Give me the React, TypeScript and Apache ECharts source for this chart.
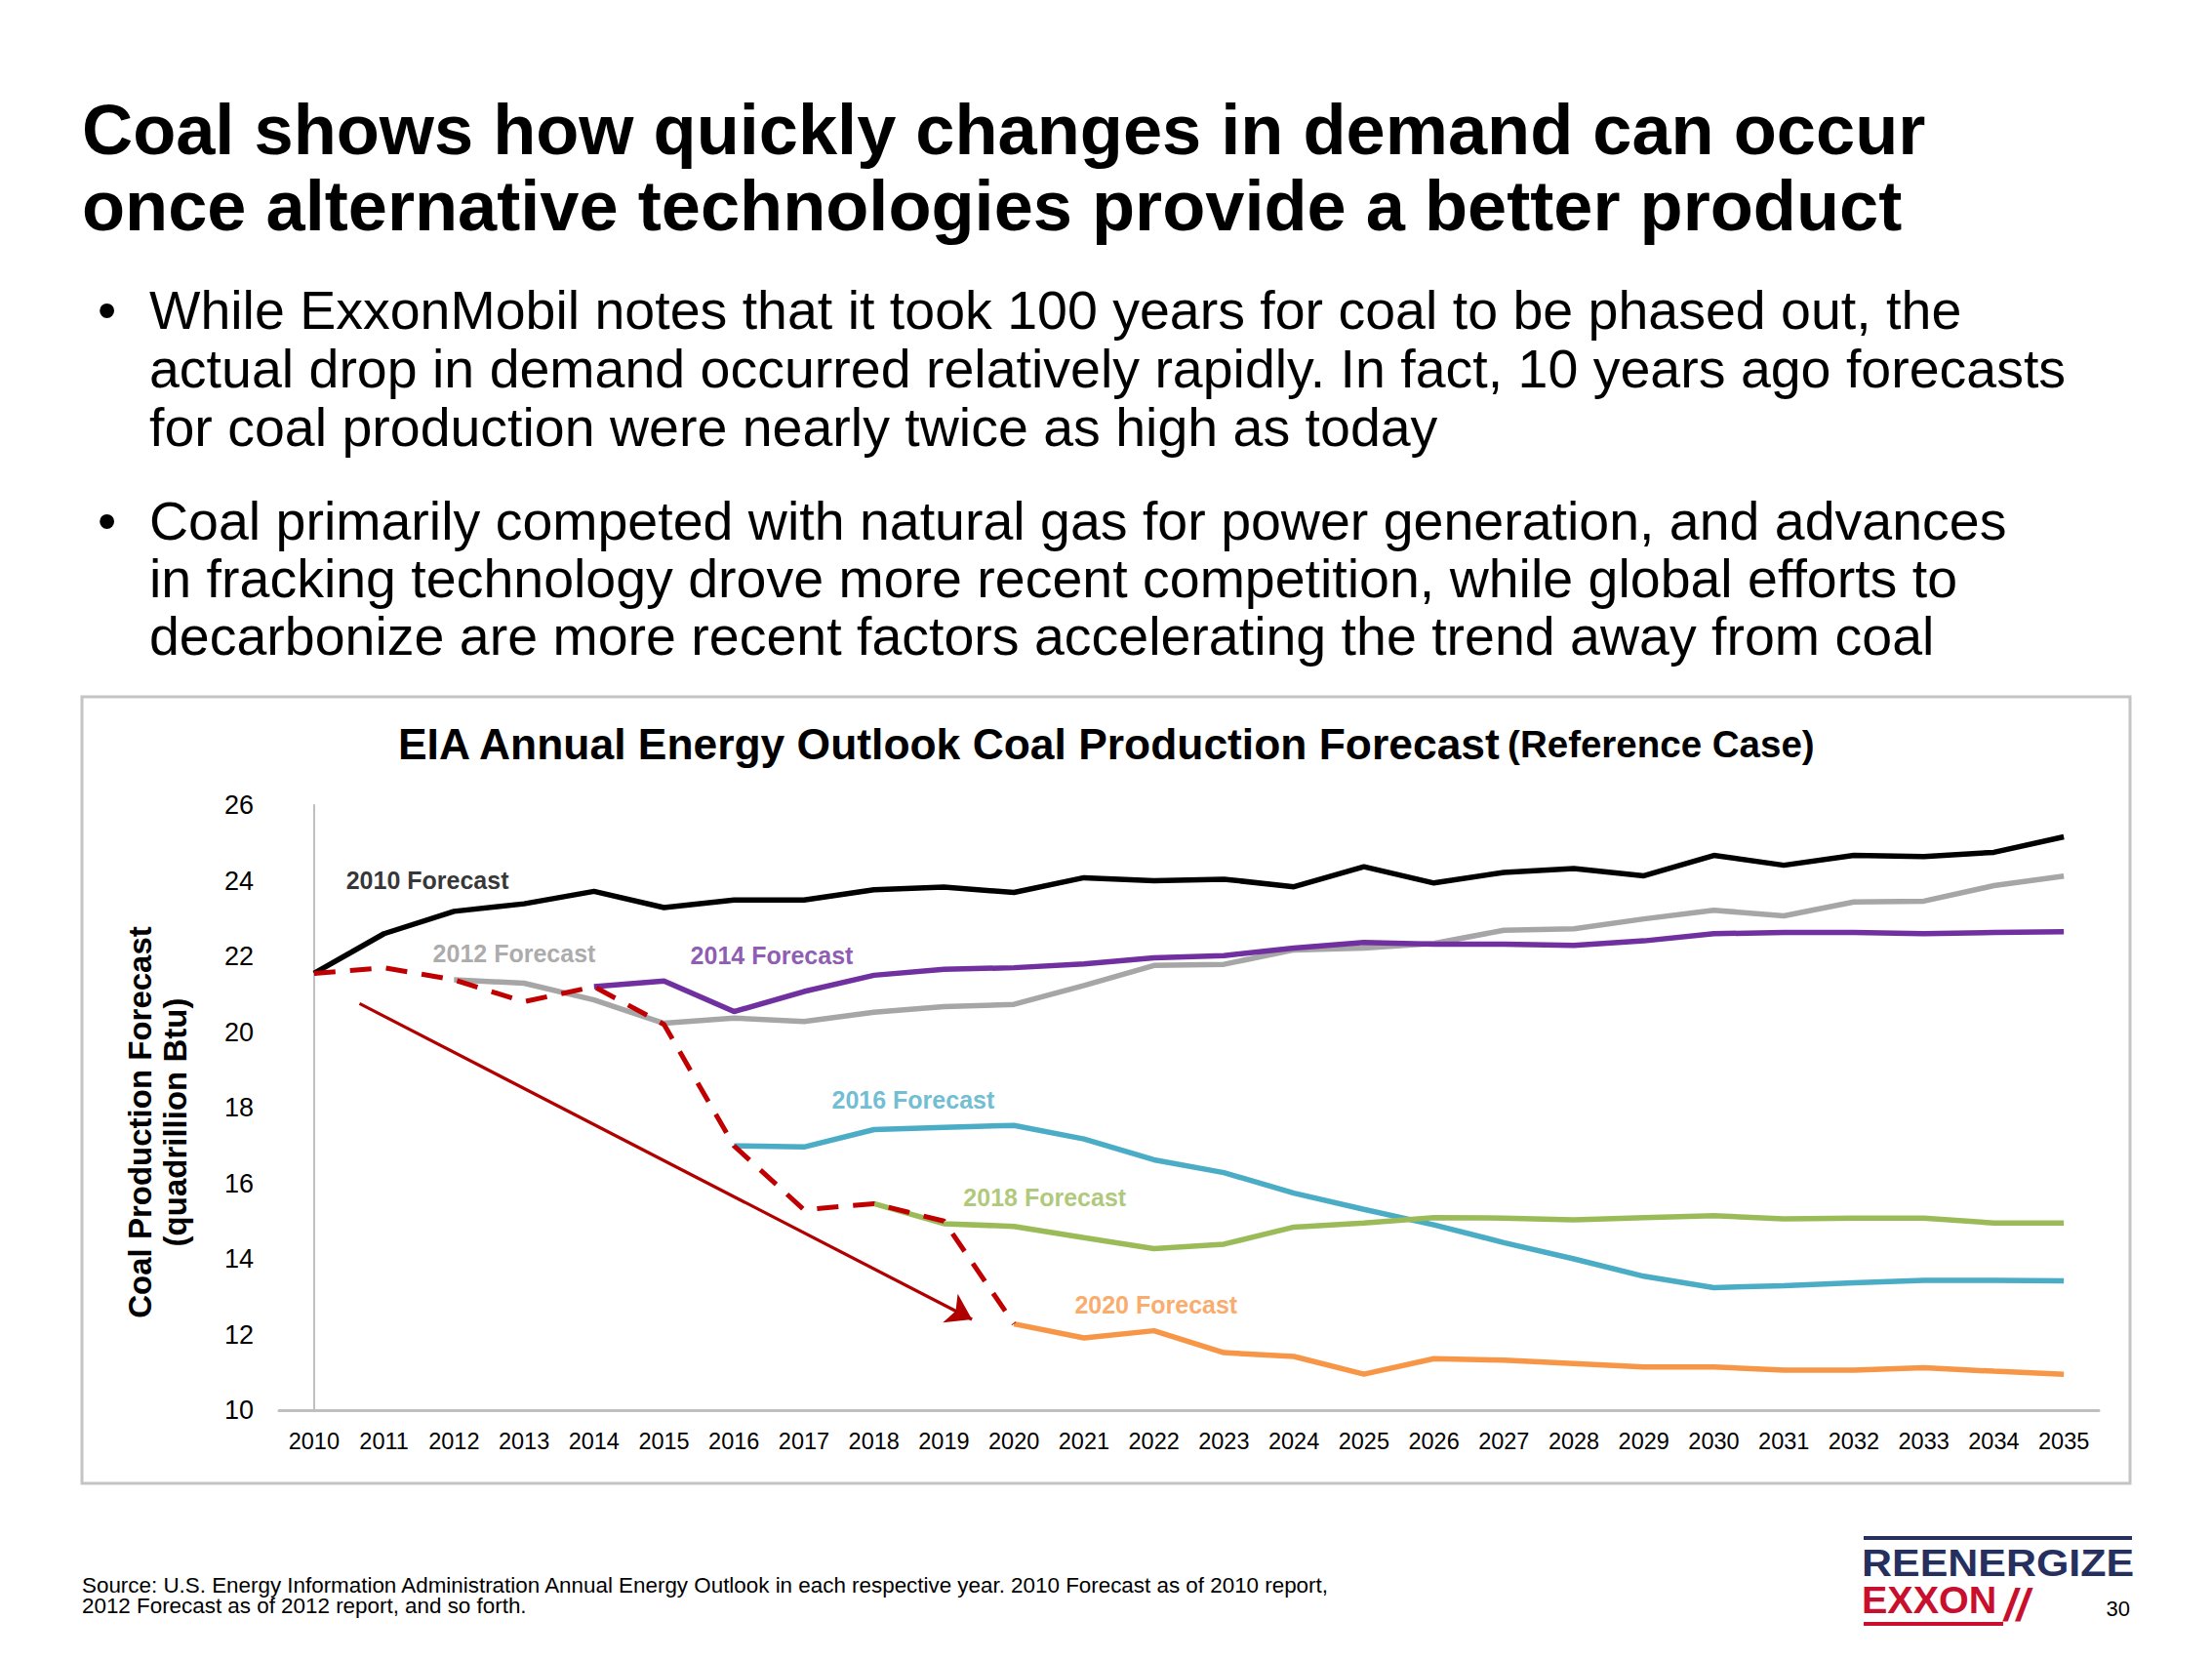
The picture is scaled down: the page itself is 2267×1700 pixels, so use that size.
import React, { useEffect, useRef } from 'react';
import * as echarts from 'echarts';

const years = ['2010','2011','2012','2013','2014','2015','2016','2017','2018','2019','2020','2021','2022','2023','2024','2025','2026','2027','2028','2029','2030','2031','2032','2033','2034','2035'];

const forecast2010 = [21.55, 22.6, 23.19, 23.39, 23.72, 23.29, 23.49, 23.49, 23.76, 23.83, 23.69, 24.08, 24.0, 24.04, 23.84, 24.37, 23.94, 24.22, 24.32, 24.13, 24.67, 24.41, 24.67, 24.64, 24.75, 25.16];
const forecast2012 = [null, null, 21.38, 21.29, 20.85, 20.23, 20.37, 20.28, 20.52, 20.67, 20.73, 21.23, 21.76, 21.79, 22.17, 22.22, 22.34, 22.69, 22.73, 22.99, 23.22, 23.07, 23.44, 23.46, 23.87, 24.12];
const forecast2014 = [null, null, null, null, 21.2, 21.35, 20.54, 21.07, 21.5, 21.66, 21.7, 21.8, 21.96, 22.02, 22.22, 22.37, 22.32, 22.32, 22.29, 22.41, 22.6, 22.63, 22.63, 22.6, 22.63, 22.65];
const forecast2016 = [null, null, null, null, null, null, 16.99, 16.96, 17.42, 17.48, 17.53, 17.17, 16.62, 16.28, 15.74, 15.31, 14.9, 14.43, 14.0, 13.54, 13.24, 13.29, 13.37, 13.43, 13.43, 13.42];
const forecast2018 = [null, null, null, null, null, null, null, null, 15.46, 14.93, 14.86, 14.56, 14.27, 14.39, 14.84, 14.95, 15.09, 15.08, 15.03, 15.09, 15.14, 15.06, 15.08, 15.08, 14.95, 14.95];
const forecast2020 = [null, null, null, null, null, null, null, null, null, null, 12.28, 11.91, 12.1, 11.52, 11.42, 10.95, 11.36, 11.32, 11.23, 11.14, 11.14, 11.06, 11.06, 11.12, 11.03, 10.95];
const actualPath = [21.55, 21.7, 21.38, 20.8, 21.2, 20.2, 16.99, 15.3, 15.46, 15.0, 12.28, null, null, null, null, null, null, null, null, null, null, null, null, null, null, null];

// Annotation arrow (category index, value)
const arrowStart = [0.65, 20.75];
const arrowEnd = [9.4, 12.4];

// Series name labels (category index, value)
const labelNames = ['2010 Forecast', '2012 Forecast', '2014 Forecast', '2016 Forecast', '2018 Forecast', '2020 Forecast'];
const labelX = [1.62, 2.86, 6.54, 8.56, 10.44, 12.03];
const labelY = [24.01, 22.08, 22.02, 18.21, 15.63, 12.79];
const labelColors = ['#000000', '#959595', '#7030a0', '#4bacc6', '#9bbb59', '#f79646'];

const yTicks = { min: 10, max: 26, interval: 2 };

const REG = "'Liberation Sans', Arial, sans-serif";

const bullet1 = [
  'While ExxonMobil notes that it took 100 years for coal to be phased out, the',
  'actual drop in demand occurred relatively rapidly. In fact, 10 years ago forecasts',
  'for coal production were nearly twice as high as today',
];
const bullet2 = [
  'Coal primarily competed with natural gas for power generation, and advances',
  'in fracking technology drove more recent competition, while global efforts to',
  'decarbonize are more recent factors accelerating the trend away from coal',
];

export default function App() {
  const ref = useRef<HTMLDivElement>(null);
  useEffect(() => {
    document.body.style.margin = '0';
    const chart = echarts.init(ref.current as HTMLDivElement, null, { renderer: 'svg' });

    const txt = (text: string, x: number, y: number, size: number, opts: any = {}) => ({
      type: 'text',
      x,
      y,
      z: 10,
      style: {
        text,
        fill: opts.fill || '#000',
        fontSize: size,
        fontWeight: opts.weight || 'normal',
        fontStyle: opts.style || 'normal',
        fontFamily: opts.family || REG,
        align: opts.align || 'left',
        verticalAlign: 'middle',
      },
      ...(opts.extra || {}),
    });

    const graphics: any[] = [
      // chart box
      {
        type: 'rect',
        shape: { x: 84, y: 714, width: 2099, height: 806 },
        style: { fill: 'none', stroke: '#c4c4c4', lineWidth: 3 },
        z: 0,
      },
      txt('Coal shows how quickly changes in demand can occur', 84, 133, 72.2, { weight: 'bold' }),
      txt('once alternative technologies provide a better product', 84, 211, 72.2, { weight: 'bold' }),
      txt('•', 100, 318, 55),
      txt('•', 100, 534, 55),
      ...bullet1.map((s, i) => txt(s, 153, 318 + i * 60, 55.5)),
      ...bullet2.map((s, i) => txt(s, 153, 534 + i * 59, 55.5)),
      {
        type: 'text',
        x: 1133,
        y: 762,
        z: 10,
        style: {
          text: '{a|EIA Annual Energy Outlook Coal Production Forecast}  {b|(Reference Case)}',
          align: 'center',
          verticalAlign: 'middle',
          rich: {
            a: { fontSize: 44.4, fontWeight: 'bold', fontFamily: REG, fill: '#000' },
            b: { fontSize: 38.5, fontWeight: 'bold', fontFamily: REG, fill: '#000' },
          },
        },
      },
      {
        type: 'text',
        x: 161,
        y: 1150,
        rotation: Math.PI / 2,
        z: 10,
        style: {
          text: 'Coal Production Forecast\n(quadrillion Btu)',
          fill: '#000',
          fontSize: 33,
          fontWeight: 'bold',
          fontFamily: REG,
          align: 'center',
          verticalAlign: 'middle',
          lineHeight: 36,
        },
      },
      txt('Source: U.S. Energy Information Administration Annual Energy Outlook in each respective year. 2010 Forecast as of 2010 report,', 84, 1624, 22.4),
      txt('2012 Forecast as of 2012 report, and so forth.', 84, 1645, 22.4),
      // logo
      { type: 'rect', shape: { x: 1910, y: 1574, width: 275, height: 4 }, style: { fill: '#25305f' }, z: 10 },
      txt('REENERGIZE', 1908, 1602, 38, { weight: 'bold', fill: '#25305f', extra: { scaleX: 1.13 } }),
      txt('EXXON', 1908, 1640, 38, { weight: 'bold', fill: '#c8102e', extra: { scaleX: 1.04 } }),
      txt('//', 2054, 1645, 46, { weight: 'bold', style: 'italic', fill: '#c8102e' }),
      { type: 'rect', shape: { x: 1910, y: 1662, width: 143, height: 4 }, style: { fill: '#c8102e' }, z: 10 },
      txt('30', 2183, 1648, 22, { align: 'right' }),
    ];

    const lineSeries = (name: string, data: any[], color: string, extra: any = {}) => ({
      type: 'line',
      name,
      data,
      symbol: 'none',
      connectNulls: false,
      lineStyle: { color, width: 5.5, ...(extra.lineStyle || {}) },
      itemStyle: { color },
      z: extra.z || 3,
      silent: true,
    });

    const option: any = {
      animation: false,
      backgroundColor: '#ffffff',
      grid: { left: 286, right: 116, top: 825, bottom: 255, containLabel: false },
      xAxis: [
        {
          type: 'category',
          data: years,
          boundaryGap: true,
          axisLine: { show: true, lineStyle: { color: '#bfbfbf', width: 3 } },
          axisTick: { show: false },
          axisLabel: { color: '#000', fontSize: 23.5, fontFamily: REG, margin: 20, interval: 0 },
          splitLine: { show: false },
        },
        { type: 'value', min: -0.5, max: 25.5, show: false },
      ],
      yAxis: {
        type: 'value',
        min: yTicks.min,
        max: yTicks.max,
        interval: yTicks.interval,
        axisLine: { show: true, lineStyle: { color: '#bfbfbf', width: 2 } },
        axisTick: { show: false },
        splitLine: { show: false },
        axisLabel: { color: '#000', fontSize: 27, fontFamily: REG, margin: 26 },
      },
      graphic: graphics,
      series: [
        lineSeries('2010 Forecast', forecast2010, '#000000'),
        lineSeries('2012 Forecast', forecast2012, '#a6a6a6'),
        lineSeries('2014 Forecast', forecast2014, '#7030a0'),
        lineSeries('2016 Forecast', forecast2016, '#4bacc6'),
        lineSeries('2018 Forecast', forecast2018, '#9bbb59'),
        lineSeries('2020 Forecast', forecast2020, '#f79646'),
        lineSeries('Actual', actualPath, '#c00000', { lineStyle: { type: [22, 15], width: 5 }, z: 5 }),
        {
          type: 'line',
          xAxisIndex: 1,
          data: [],
          silent: true,
          markLine: {
            silent: true,
            symbol: ['none', 'arrow'],
            symbolSize: 25,
            label: { show: false },
            lineStyle: { type: 'solid', color: '#b00000', width: 3.2 },
            data: [[{ coord: arrowStart }, { coord: arrowEnd }]],
          },
        },
        {
          type: 'scatter',
          xAxisIndex: 1,
          symbolSize: 0,
          silent: true,
          z: 6,
          data: labelNames.map((n, i) => ({
            name: n,
            value: [labelX[i], labelY[i]],
            label: { color: labelColors[i] },
          })),
          label: {
            show: true,
            position: 'inside',
            formatter: '{b}',
            fontSize: 25,
            fontWeight: 'bold',
            fontFamily: REG,
          },
        },
      ],
    };

    chart.setOption(option);
    return () => chart.dispose();
  }, []);
  return <div ref={ref} style={{ width: 2267, height: 1700, background: '#fff' }} />;
}
